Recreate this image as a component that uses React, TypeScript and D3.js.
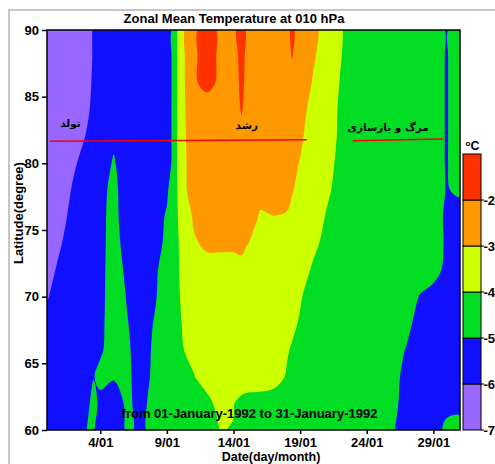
import React, { useEffect, useRef } from 'react';
import * as d3 from 'd3';

// grid columns (day of January 1992) and rows (latitude, degrees)
const dayColumns = [0, 1, 2, 3, 3.5, 4, 5, 6, 7, 8, 9, 10, 11, 12, 13, 14, 14.6, 15, 16, 17, 18, 18.4, 19, 20, 21, 22, 23, 24, 25, 26, 27, 28, 29, 30, 31];
const latitudes = [60, 62, 64, 66, 68, 70, 72, 74, 76, 78, 80, 82, 84, 86, 88, 90];

// zonal mean temperature, one array per latitude
const lat60 = [-5.6, -5.6, -5.8, -4.97, -4.92, -5.6, -5.7, -4.85, -5.15, -4.8, -4.5, -4.5, -4.45, -4.35, -3.98, -4.02, -4.3, -4.4, -4.5, -4.5, -4.5, -4.5, -4.5, -4.5, -4.5, -4.5, -4.5, -4.5, -4.5, -4.95, -5.4, -5.6, -5.8, -4.6, -4.5];
const lat62 = [-5.7, -5.6, -5.5, -5.3, -4.6, -5.3, -5.6, -4.8, -5.3, -4.7, -4.5, -4.5, -4.4, -4.25, -3.7, -3.97, -4.2, -4.3, -4.35, -4.3, -4.4, -4.45, -4.5, -4.5, -4.5, -4.5, -4.5, -4.5, -4.5, -4.85, -5.25, -5.4, -5.45, -5.5, -5.4];
const lat64 = [-5.7, -5.6, -5.5, -5.3, -5.05, -4.7, -4.9, -4.8, -5.4, -4.85, -4.5, -4.35, -4.05, -3.6, -3.5, -3.55, -3.55, -3.55, -3.55, -3.75, -4.05, -4.2, -4.3, -4.45, -4.5, -4.5, -4.5, -4.5, -4.5, -4.8, -5.2, -5.35, -5.4, -5.5, -5.5];
const lat66 = [-5.7, -5.6, -5.6, -5.5, -5.35, -5.15, -4.5, -4.85, -5.4, -4.9, -4.45, -4.1, -3.75, -3.6, -3.55, -3.55, -3.55, -3.55, -3.6, -3.7, -3.95, -4.05, -4.2, -4.4, -4.5, -4.5, -4.5, -4.5, -4.5, -4.7, -5.05, -5.3, -5.4, -5.5, -5.5];
const lat68 = [-5.8, -5.7, -5.6, -5.5, -5.4, -5.25, -4.45, -4.95, -5.4, -4.98, -4.45, -4.05, -3.6, -3.55, -3.55, -3.55, -3.55, -3.55, -3.55, -3.6, -3.8, -3.9, -4.05, -4.3, -4.5, -4.5, -4.5, -4.5, -4.5, -4.6, -4.8, -5.3, -5.4, -5.5, -5.5];
const lat70 = [-6.05, -5.7, -5.6, -5.5, -5.4, -5.3, -4.45, -5.05, -5.4, -5.15, -4.5, -3.99, -3.6, -3.5, -3.45, -3.45, -3.45, -3.45, -3.5, -3.55, -3.7, -3.8, -3.95, -4.25, -4.4, -4.5, -4.5, -4.5, -4.5, -4.55, -4.6, -5.05, -5.3, -5.4, -5.5];
const lat72 = [-6.25, -5.85, -5.7, -5.5, -5.4, -5.3, -4.5, -5.2, -5.5, -5.2, -4.6, -3.95, -3.5, -3.3, -3.3, -3.2, -3.12, -3.3, -3.4, -3.45, -3.5, -3.55, -3.7, -4.1, -4.3, -4.4, -4.45, -4.5, -4.5, -4.5, -4.5, -4.55, -4.7, -5.2, -5.4];
const lat74 = [-6.4, -6.05, -5.65, -5.55, -5.45, -5.35, -4.5, -5.5, -5.55, -5.4, -4.8, -3.9, -3.1, -2.85, -2.85, -2.9, -2.9, -2.97, -3.2, -3.3, -3.35, -3.4, -3.45, -3.85, -4.2, -4.4, -4.45, -4.5, -4.5, -4.5, -4.5, -4.55, -4.5, -5.15, -5.4];
const lat76 = [-6.5, -6.2, -5.8, -5.6, -5.5, -5.35, -4.55, -5.75, -5.6, -5.45, -4.9, -3.8, -2.9, -2.6, -2.6, -2.6, -2.65, -2.7, -3.05, -3.02, -3.1, -3.2, -3.4, -3.7, -4.05, -4.3, -4.4, -4.5, -4.5, -4.5, -4.5, -4.55, -4.5, -5.2, -5.4];
const lat78 = [-6.5, -6.4, -5.9, -5.7, -5.55, -5.45, -4.6, -5.8, -5.6, -5.6, -5.14, -3.7, -2.3, -2.4, -2.4, -2.4, -2.4, -2.4, -2.85, -2.5, -2.6, -2.95, -3.2, -3.5, -3.9, -4.2, -4.4, -4.5, -4.5, -4.5, -4.5, -4.55, -4.55, -5.05, -4.85];
const lat80 = [-6.5, -6.4, -6.1, -5.7, -5.75, -5.8, -4.85, -5.8, -5.6, -5.6, -5.75, -3.45, -2.5, -2.4, -2.4, -2.4, -2.4, -2.4, -2.4, -2.4, -2.6, -2.75, -3.05, -3.5, -3.8, -4.15, -4.4, -4.5, -4.5, -4.5, -4.5, -4.55, -4.7, -5.05, -4.6];
const lat82 = [-6.6, -6.5, -6.3, -5.95, -5.8, -5.7, -5.3, -5.55, -5.6, -5.6, -5.8, -3.45, -2.4, -2.3, -2.3, -2.3, -2.2, -2.3, -2.5, -2.5, -2.6, -2.65, -2.8, -3.6, -3.7, -4.1, -4.4, -4.5, -4.5, -4.5, -4.5, -4.55, -4.7, -5.05, -4.6];
const lat84 = [-6.6, -6.5, -6.35, -6.1, -5.85, -5.7, -5.6, -5.6, -5.6, -5.6, -5.8, -3.45, -2.3, -2.15, -2.3, -2.3, -1.95, -2.2, -2.5, -2.5, -2.5, -2.5, -2.7, -3.3, -3.6, -4.1, -4.4, -4.5, -4.5, -4.5, -4.5, -4.55, -4.7, -5.05, -4.6];
const lat86 = [-6.6, -6.5, -6.4, -6.15, -5.92, -5.7, -5.6, -5.6, -5.6, -5.6, -5.8, -3.5, -2.04, -1.92, -2.05, -2.2, -1.9, -2.1, -2.6, -2.6, -2.4, -2.3, -2.4, -3.1, -3.45, -4.03, -4.4, -4.5, -4.5, -4.5, -4.5, -4.55, -4.7, -5.05, -4.6];
const lat88 = [-6.6, -6.5, -6.4, -6.2, -5.95, -5.75, -5.7, -5.6, -5.6, -5.6, -5.8, -3.5, -2.05, -1.88, -2.05, -2.2, -1.85, -2.1, -2.6, -2.6, -2.25, -1.97, -2.4, -2.9, -3.5, -3.95, -4.4, -4.5, -4.5, -4.5, -4.5, -4.55, -4.7, -5.05, -4.6];
const lat90 = [-6.6, -6.5, -6.4, -6.2, -5.95, -5.76, -5.7, -5.6, -5.6, -5.6, -5.8, -3.5, -2.04, -1.9, -2.04, -2.1, -1.8, -2.05, -2.6, -2.6, -2.2, -1.85, -2.3, -2.75, -3.4, -3.9, -4.4, -4.5, -4.5, -4.5, -4.5, -4.55, -4.7, -5.05, -4.6];

// colour bands (oC) and their colours, lowest first
const bandEdges = [-7, -6, -5, -4, -3, -2, -1];
const bandColors = ['#9966ff', '#1010ff', '#00dd22', '#ccff00', '#ff9900', '#ff3300'];
const barLabels = [-2, -3, -4, -5, -6, -7];

const dateTicks = [4, 9, 14, 19, 24, 29];
const dateLabels = ['4/01', '9/01', '14/01', '19/01', '24/01', '29/01'];
const latTicks = [60, 65, 70, 75, 80, 85, 90];

const phaseNames = ['تولد', 'رشد', 'مرگ و بازسازی'];

const App = () => {
  const ref = useRef(null);

  useEffect(() => {
    document.body.style.margin = '0';
    const svg = d3.select(ref.current);
    svg.selectAll('*').remove();

    const left = 47, right = 460, top = 30, bottom = 430;
    const font = 'Liberation Sans, Arial, sans-serif';

    const x = d3.scaleLinear().domain([0, 31]).range([left, right]);
    const y = d3.scaleLinear().domain([60, 90]).range([bottom, top]);

    // page frame
    svg.append('rect')
      .attr('x', 9).attr('y', 10).attr('width', 520).attr('height', 500)
      .attr('fill', 'white').attr('stroke', '#b4b4b4').attr('stroke-width', 1.5);

    svg.append('text')
      .attr('x', 234).attr('y', 22.5)
      .attr('text-anchor', 'middle')
      .attr('font-family', font).attr('font-weight', 'bold').attr('font-size', 13)
      .text('Zonal Mean Temperature at 010 hPa');

    // filled contours
    svg.append('defs').append('clipPath').attr('id', 'plotclip')
      .append('rect')
      .attr('x', left).attr('y', top).attr('width', right - left).attr('height', bottom - top);

    const rows = [lat60, lat62, lat64, lat66, lat68, lat70, lat72, lat74, lat76, lat78, lat80, lat82, lat84, lat86, lat88, lat90];
    const values = rows.flat();
    const contours = d3.contours()
      .size([dayColumns.length, latitudes.length])
      .thresholds(bandEdges.slice(1, -1))(values);

    // grid index -> pixel (value i sits at i + 0.5)
    const gx = d3.scaleLinear().domain(dayColumns.map((_, i) => i + 0.5)).range(dayColumns.map(d => x(d)));
    const gy = d3.scaleLinear().domain(latitudes.map((_, j) => j + 0.5)).range(latitudes.map(l => y(l)));

    // smooth each ring a little so the bands look like the original
    const ringLine = d3.line()
      .x(p => gx(p[0]))
      .y(p => gy(p[1]))
      .curve(d3.curveCatmullRomClosed.alpha(0.5));
    const contourPath = c => c.coordinates
      .map(poly => poly.map(ring => ringLine(ring.slice(0, -1))).join(''))
      .join('');

    const plot = svg.append('g').attr('clip-path', 'url(#plotclip)');
    plot.append('rect')
      .attr('x', left).attr('y', top).attr('width', right - left).attr('height', bottom - top)
      .attr('fill', bandColors[0]);
    plot.selectAll('path')
      .data(contours)
      .enter()
      .append('path')
      .attr('d', contourPath)
      .attr('fill-rule', 'evenodd')
      .attr('fill', (d, i) => bandColors[i + 1]);

    // phase annotations
    const phasePos = [[1.76, 82.7], [15.0, 82.58], [25.6, 82.43]];
    svg.selectAll('text.phase')
      .data(phaseNames)
      .enter()
      .append('text')
      .attr('class', 'phase')
      .attr('x', (d, i) => x(phasePos[i][0]))
      .attr('y', (d, i) => y(phasePos[i][1]))
      .attr('text-anchor', 'middle')
      .attr('font-family', 'DejaVu Sans, sans-serif').attr('font-weight', 'bold').attr('font-size', 10.5)
      .text(d => d);

    const phaseLines = [[[0.2, 81.65], [19.5, 81.77]], [[22.95, 81.7], [29.75, 81.83]]];
    svg.selectAll('line.phase')
      .data(phaseLines)
      .enter()
      .append('line')
      .attr('class', 'phase')
      .attr('x1', d => x(d[0][0])).attr('y1', d => y(d[0][1]))
      .attr('x2', d => x(d[1][0])).attr('y2', d => y(d[1][1]))
      .attr('stroke', '#ff0000').attr('stroke-width', 1.5);

    svg.append('text')
      .attr('x', x(15.2)).attr('y', y(60.9))
      .attr('text-anchor', 'middle')
      .attr('font-family', font).attr('font-weight', 'bold').attr('font-size', 13)
      .text('from 01-January-1992 to 31-January-1992');

    svg.append('rect')
      .attr('x', left).attr('y', top).attr('width', right - left).attr('height', bottom - top)
      .attr('fill', 'none').attr('stroke', 'black').attr('stroke-width', 1.5);

    // axes
    const yAxis = svg.append('g')
      .attr('transform', `translate(${left},0)`)
      .call(d3.axisLeft(y).tickValues(latTicks).tickSize(5).tickPadding(3));
    const xAxis = svg.append('g')
      .attr('transform', `translate(0,${bottom})`)
      .call(d3.axisBottom(x).tickValues(dateTicks).tickFormat((d, i) => dateLabels[i]).tickSize(4).tickPadding(4));
    [yAxis, xAxis].forEach(g => {
      g.select('.domain').remove();
      g.selectAll('line').attr('stroke', 'black').attr('stroke-width', 1.5);
      g.selectAll('text')
        .attr('fill', 'black')
        .attr('font-family', font).attr('font-weight', 'bold').attr('font-size', 13);
    });

    svg.append('text')
      .attr('x', 271).attr('y', 461.2)
      .attr('text-anchor', 'middle')
      .attr('font-family', font).attr('font-weight', 'bold').attr('font-size', 12.5)
      .text('Date(day/month)');

    svg.append('text')
      .attr('transform', 'translate(22.5,213) rotate(-90)')
      .attr('text-anchor', 'middle')
      .attr('font-family', font).attr('font-weight', 'bold').attr('font-size', 13)
      .text('Latitude(degree)');

    // colour bar
    const barX = 463, barW = 18;
    const yb = d3.scaleLinear().domain([-7, -1]).range([bottom, 154]);
    svg.selectAll('rect.band')
      .data(bandColors)
      .enter()
      .append('rect')
      .attr('class', 'band')
      .attr('x', barX).attr('width', barW)
      .attr('y', (d, i) => yb(bandEdges[i + 1]))
      .attr('height', (d, i) => yb(bandEdges[i]) - yb(bandEdges[i + 1]))
      .attr('fill', d => d)
      .attr('stroke', 'black').attr('stroke-width', 1);

    svg.selectAll('line.bartick')
      .data(barLabels)
      .enter()
      .append('line')
      .attr('class', 'bartick')
      .attr('x1', barX + barW).attr('x2', barX + barW + 3)
      .attr('y1', d => yb(d)).attr('y2', d => yb(d))
      .attr('stroke', 'black').attr('stroke-width', 1);

    svg.selectAll('text.barlabel')
      .data(barLabels)
      .enter()
      .append('text')
      .attr('class', 'barlabel')
      .attr('x', barX + barW + 2.5)
      .attr('y', d => yb(d))
      .attr('dy', '0.35em')
      .attr('font-family', font).attr('font-weight', 'bold').attr('font-size', 13)
      .text(d => d);

    const unit = svg.append('text')
      .attr('x', 465.5).attr('y', 150)
      .attr('font-family', font).attr('font-weight', 'bold').attr('font-size', 12.5);
    unit.append('tspan').attr('font-size', 8).attr('dy', -4).text('o');
    unit.append('tspan').attr('dy', 4).text('C');
  }, []);

  return (
    <svg ref={ref} width={495} height={464} style={{ display: 'block' }}></svg>
  );
};

export default App;
